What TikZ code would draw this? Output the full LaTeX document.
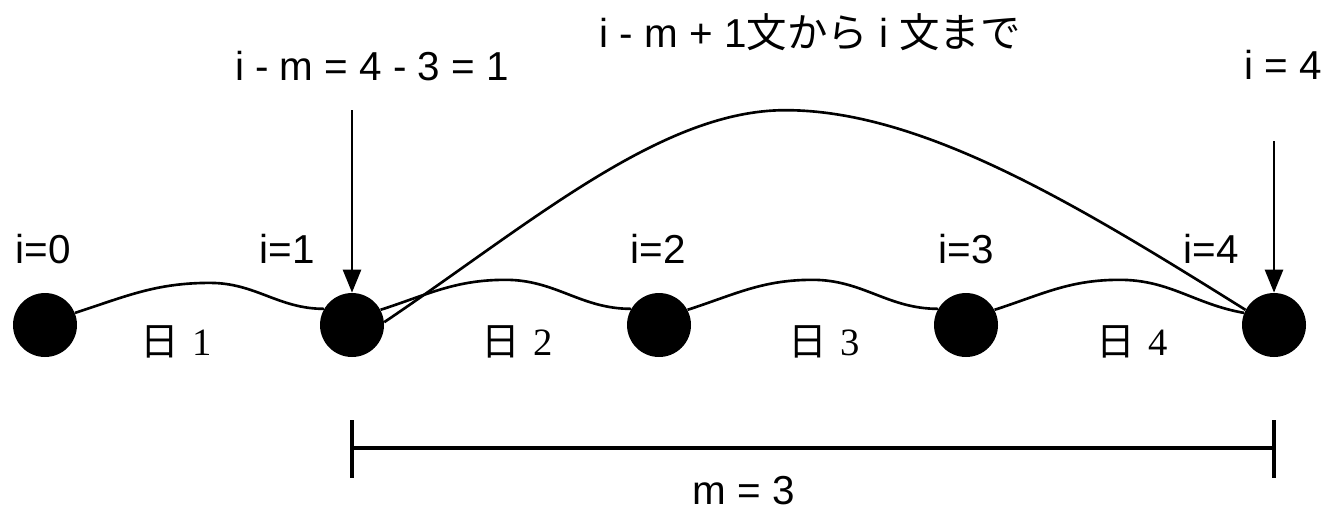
\documentclass[tikz,border=0pt]{standalone}
\usepackage{fontspec}
\setmainfont{Liberation Sans}
\newfontfamily\cjk{Noto Sans CJK JP}
\newfontfamily\serifdigit{Liberation Serif}
\usetikzlibrary{arrows.meta}

\begin{document}
\begin{tikzpicture}[
    x=0.02cm, y=-0.02cm,
    font=\fontsize{23}{27}\selectfont,
    sent/.style     ={circle, fill=black, minimum size=1.28cm, inner sep=0pt},
    idx/.style      ={inner sep=0pt},
    day/.style      ={inner sep=0pt, font=\fontsize{22}{26}\selectfont\serifdigit},
    wave/.style     ={line width=1.5pt},
    ptr/.style      ={-{Triangle[length=4.6mm, width=3.6mm]}, line width=1.5pt},
    spanline/.style ={line width=2pt},
  ]
  \useasboundingbox (0,0) rectangle (1327,511);

  % ---- sentence boundaries ----
  \node[sent] (n0) at (45,325)   {};
  \node[sent] (n1) at (352,325)  {};
  \node[sent] (n2) at (659,325)  {};
  \node[sent] (n3) at (966,325)  {};
  \node[sent] (n4) at (1274,325) {};
  \node[idx] (l0) at (43,249)   {i=0};
  \node[idx] (l1) at (287,249)  {i=1};
  \node[idx] (l2) at (658,249)  {i=2};
  \node[idx] (l3) at (966,249)  {i=3};
  \node[idx] (l4) at (1211,249) {i=4};

  % ---- sentences between boundaries ----
  \draw[wave] (n0.22) to[out=18,in=180] ++(135,-30) to[out=0,in=180] (n1.150);
  \draw[wave] (n1.28) to[out=18,in=180] ++(125,-30) to[out=0,in=180] (n2.150);
  \draw[wave] (n2.28) to[out=18,in=180] ++(125,-30) to[out=0,in=180] (n3.150);
  \draw[wave] (n3.28) to[out=18,in=180] ++(125,-30) to[out=0,in=170] (n4.158);
  \node[day] (d1) at (176,342)  {{\cjk 日}\hspace{0.35em}1};
  \node[day] (d2) at (517,342)  {{\cjk 日}\hspace{0.35em}2};
  \node[day] (d3) at (824,342)  {{\cjk 日}\hspace{0.35em}3};
  \node[day] (d4) at (1132,342) {{\cjk 日}\hspace{0.35em}4};

  % ---- window i-m+1 .. i ----
  \draw[wave] (n1.5) to[out=34,in=180,in looseness=0.7] ++(401,-212)
                     to[out=0,in=148,out looseness=0.7] (n4.152);
  \node[idx] (win) at (810,32) {i - m + 1{\cjk 文から} i {\cjk 文まで}};

  % ---- pointers ----
  \coordinate (p1) at (352,110);
  \coordinate (p4) at (1274,141);
  \draw[ptr] (p1) -- (n1.north);
  \draw[ptr] (p4) -- (n4.north);
  \node[idx] (start) at (372,66) {i - m = 4 - 3 = 1};
  \node[idx] (stop) at (1283,65) {i = 4};

  % ---- span m ----
  \coordinate (sl) at (352,448);
  \coordinate (sr) at (1274,448);
  \draw[spanline] (sl) -- (sr);
  \draw[spanline] (sl) +(0,-28) -- +(0,30);
  \draw[spanline] (sr) +(0,-28) -- +(0,30);
  \node[idx] (mlbl) at (744,491) {m = 3};

\end{tikzpicture}
\end{document}
